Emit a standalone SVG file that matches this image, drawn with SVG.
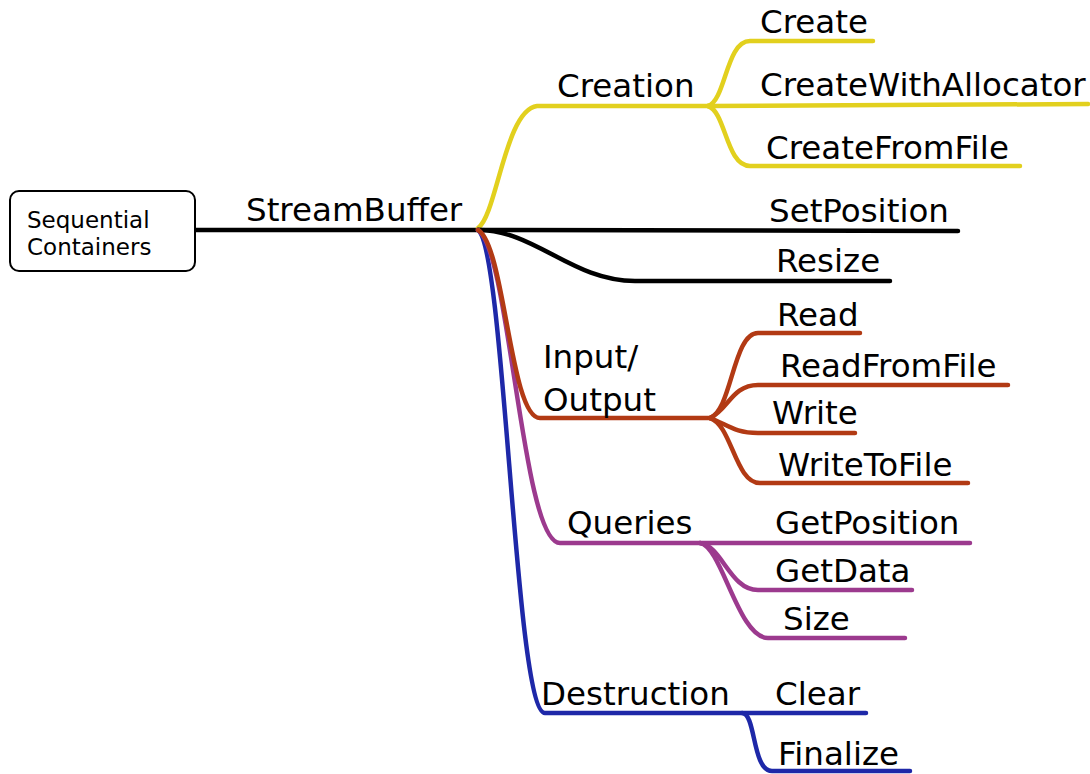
<svg xmlns="http://www.w3.org/2000/svg" width="1090" height="774" viewBox="0 0 1090 774">
<style>
text{font-family:"DejaVu Sans","Liberation Sans",sans-serif;font-size:32.5px;fill:#000}
.small{font-size:23px}
.c{fill:none;stroke-width:4.5;stroke-linecap:round;stroke-linejoin:round}
.k{stroke:#000}
.y{stroke:#e2d01e}
.r{stroke:#b23a14}
.p{stroke:#9c3a8e}
.b{stroke:#1e28a8}
</style>
<rect width="1090" height="774" fill="#fff"/>
<g id="connectors">
<path class="c k" d="M195,230 L478,230"/>
<path class="c y" d="M478,228 C497,215 505,110 537,106 L708,106"/>
<path class="c y" d="M708,106 C726,100 726,41 750,41 L873,41"/>
<path class="c y" d="M708,106 L1088,104"/>
<path class="c y" d="M708,106 C726,112 726,166 750,166 L1020,166"/>
<path class="c k" d="M478,230 L958,231"/>
<path class="c k" d="M478,230 C535,230 572,281 635,281 L890,281"/>
<path class="c b" d="M478,230 C505,250 515,713 545,713 L866,713"/>
<path class="c b" d="M742,713 C756,713 752,771 772,771 L910,771"/>
<path class="c p" d="M478,230 C510,250 522,543 560,543 L970,543"/>
<path class="c p" d="M700,543 C722,546 730,590 758,590 L912,590"/>
<path class="c p" d="M700,543 C722,546 738,638 768,638 L905,638"/>
<path class="c r" d="M478,230 C505,245 510,418 540,418 L710,418"/>
<path class="c r" d="M710,418 C732,410 733,333 758,333 L860,333"/>
<path class="c r" d="M710,418 C728,410 732,385 758,385 L1008,385"/>
<path class="c r" d="M710,418 C728,425 735,433 758,433 L855,433"/>
<path class="c r" d="M710,418 C732,425 735,483 760,483 L968,483"/>
</g>
<g id="root">
<rect x="10" y="191" width="185" height="80" rx="9" fill="#fff" stroke="#000" stroke-width="2"/>
<text class="small" x="27" y="228">Sequential</text>
<text class="small" x="27" y="255">Containers</text>
</g>
<g id="streambuffer"><text x="246" y="221">StreamBuffer</text></g>
<g id="creation"><text x="557" y="97">Creation</text></g>
<g id="create"><text x="760" y="33">Create</text></g>
<g id="createwithallocator"><text x="760" y="96">CreateWithAllocator</text></g>
<g id="createfromfile"><text x="766" y="159">CreateFromFile</text></g>
<g id="setposition"><text x="769" y="222">SetPosition</text></g>
<g id="resize"><text x="776" y="272">Resize</text></g>
<g id="io"><text x="543" y="368">Input/</text><text x="543" y="411">Output</text></g>
<g id="read"><text x="777" y="326">Read</text></g>
<g id="readfromfile"><text x="780" y="377">ReadFromFile</text></g>
<g id="write"><text x="772" y="424">Write</text></g>
<g id="writetofile"><text x="778" y="476">WriteToFile</text></g>
<g id="queries"><text x="567" y="534">Queries</text></g>
<g id="getposition"><text x="775" y="534">GetPosition</text></g>
<g id="getdata"><text x="775" y="582">GetData</text></g>
<g id="size"><text x="783" y="630">Size</text></g>
<g id="destruction"><text x="541" y="705">Destruction</text></g>
<g id="clear"><text x="775" y="705">Clear</text></g>
<g id="finalize"><text x="778" y="765">Finalize</text></g>
</svg>
